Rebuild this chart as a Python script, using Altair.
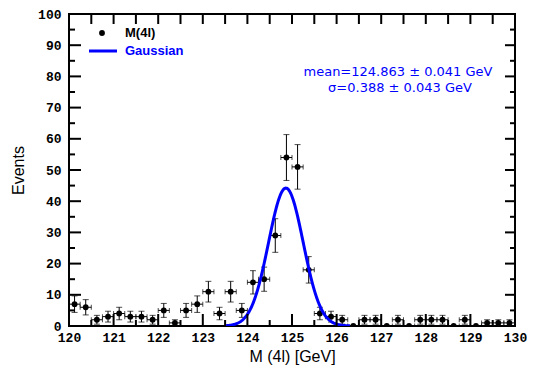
import altair as alt
import pandas as pd
import numpy as np

# ---- data ----
bin_centers = [120.125, 120.375, 120.625, 120.875, 121.125, 121.375, 121.625, 121.875,
               122.125, 122.375, 122.625, 122.875, 123.125, 123.375, 123.625, 123.875,
               124.125, 124.375, 124.625, 124.875, 125.125, 125.375, 125.625, 125.875,
               126.125, 126.375, 126.625, 126.875, 127.125, 127.375, 127.625, 127.875,
               128.125, 128.375, 128.625, 128.875, 129.125, 129.375, 129.625, 129.875]
counts = [7, 6, 2, 3, 4, 3, 3, 2, 5, 1,
          5, 7, 11, 4, 11, 5, 14, 15, 29, 54,
          51, 18, 4, 3, 2, 0, 2, 2, 0, 2,
          0, 2, 2, 2, 0, 2, 0, 1, 1, 1]
bin_width = 0.25

fit_mean = 124.863
fit_sigma = 0.388
fit_amp = 44.2
fit_range = [123.5, 126.3]

x_major = [120, 121, 122, 123, 124, 125, 126, 127, 128, 129, 130]
x_minor = [120.5, 121.5, 122.5, 123.5, 124.5, 125.5, 126.5, 127.5, 128.5, 129.5]
y_major = [0, 10, 20, 30, 40, 50, 60, 70, 80, 90, 100]
y_minor = [5, 15, 25, 35, 45, 55, 65, 75, 85, 95]

legend_labels = ["M(4l)", "Gaussian"]
stats_lines = ["mean=124.863 \u00b1 0.041 GeV", "\u03c3=0.388 \u00b1 0.043 GeV"]
x_title = "M (4l) [GeV]"
y_title = "Events"

# ---- layout ----
W, H = 446, 312
BLUE = "#0000ff"

df = pd.DataFrame({"m": bin_centers, "n": counts})
df["err"] = np.sqrt(df["n"])
df["lo"] = df["n"] - df["err"]
df["hi"] = df["n"] + df["err"]
df["xl"] = df["m"] - bin_width / 2
df["xh"] = df["m"] + bin_width / 2

xs = alt.Scale(domain=[120, 130], nice=False, zero=False)
ys = alt.Scale(domain=[0, 100], nice=False, zero=True)

xaxis = alt.Axis(values=x_major, format="d", tickSize=0, domain=False, grid=False,
                 labelFont="Liberation Mono", labelFontWeight="bold", labelFontSize=13,
                 labelColor="black", labelPadding=5, labelFlush=False, labelOverlap=False,
                 title=x_title, titleFont="Liberation Sans", titleFontSize=16,
                 titleFontWeight="normal", titleColor="black", titlePadding=4)
yaxis = alt.Axis(values=y_major, format="d", tickSize=0, domain=False, grid=False,
                 labelFont="Liberation Mono", labelFontWeight="bold", labelFontSize=13,
                 labelColor="black", labelPadding=8, labelFlush=False, labelOverlap=False,
                 title=y_title, titleFont="Liberation Sans", titleFontSize=16,
                 titleFontWeight="normal", titleColor="black",
                 titleX=-46, titleY=H / 2, titleAngle=-90, titleAlign="center",
                 titleBaseline="alphabetic")


def X(f):
    return alt.X(f, scale=xs, axis=xaxis)


def Y(f):
    return alt.Y(f, scale=ys, axis=yaxis)


base = alt.Chart(df)
nz = base.transform_filter("datum.n > 0")

vbar = nz.mark_rule(color="black", strokeWidth=1, clip=True).encode(
    x=X("m:Q"), y=Y("lo:Q"), y2="hi:Q")
cap_hi = nz.mark_tick(orient="horizontal", size=6, thickness=1, color="black", clip=True).encode(
    x=X("m:Q"), y=Y("hi:Q"))
cap_lo = nz.mark_tick(orient="horizontal", size=6, thickness=1, color="black", clip=True).encode(
    x=X("m:Q"), y=Y("lo:Q"))
hbar = base.mark_rule(color="black", strokeWidth=1, clip=True).encode(
    x=X("xl:Q"), x2="xh:Q", y=Y("n:Q"))
hcap_l = base.mark_tick(orient="vertical", size=5, thickness=1, color="black", clip=True).encode(
    x=X("xl:Q"), y=Y("n:Q"))
hcap_r = base.mark_tick(orient="vertical", size=5, thickness=1, color="black", clip=True).encode(
    x=X("xh:Q"), y=Y("n:Q"))
pts = base.mark_circle(size=34, color="black", opacity=1, clip=True).encode(
    x=X("m:Q"), y=Y("n:Q"))

gauss = alt.Chart(alt.sequence(fit_range[0], fit_range[1] + 0.005, 0.01, as_="m")).transform_calculate(
    g=f"{fit_amp}*exp(-0.5*pow((datum.m-{fit_mean})/{fit_sigma},2))"
).mark_line(color=BLUE, strokeWidth=3, clip=True).encode(x=X("m:Q"), y=Y("g:Q"))

# inward ticks on all four sides
xmaj = alt.Chart(pd.DataFrame({"t": x_major}))
xmin = alt.Chart(pd.DataFrame({"t": x_minor}))
ymaj = alt.Chart(pd.DataFrame({"t": y_major}))
ymin = alt.Chart(pd.DataFrame({"t": y_minor}))
tk = dict(color="black", strokeWidth=2)
ticks = [
    xmaj.mark_rule(**tk).encode(x=X("t:Q"), y=alt.value(H), y2=alt.value(H - 12)),
    xmin.mark_rule(**tk).encode(x=X("t:Q"), y=alt.value(H), y2=alt.value(H - 6)),
    xmaj.mark_rule(**tk).encode(x=X("t:Q"), y=alt.value(0), y2=alt.value(10)),
    xmin.mark_rule(**tk).encode(x=X("t:Q"), y=alt.value(0), y2=alt.value(10)),
    ymaj.mark_rule(**tk).encode(y=Y("t:Q"), x=alt.value(0), x2=alt.value(12)),
    ymin.mark_rule(**tk).encode(y=Y("t:Q"), x=alt.value(0), x2=alt.value(6)),
    ymaj.mark_rule(**tk).encode(y=Y("t:Q"), x=alt.value(W), x2=alt.value(W - 10)),
    ymin.mark_rule(**tk).encode(y=Y("t:Q"), x=alt.value(W), x2=alt.value(W - 5)),
]

one = alt.Chart(pd.DataFrame({"k": [0]}))
leg_pt = one.mark_circle(size=34, color="black", opacity=1).encode(x=alt.value(33), y=alt.value(19))
leg_t1 = one.mark_text(text=legend_labels[0], align="left", baseline="middle", font="Liberation Sans",
                       fontSize=13, fontWeight="bold", color="black").encode(x=alt.value(56), y=alt.value(19))
leg_ln = one.mark_rule(color=BLUE, strokeWidth=3).encode(x=alt.value(20), x2=alt.value(48), y=alt.value(37))
leg_t2 = one.mark_text(text=legend_labels[1], align="left", baseline="middle", font="Liberation Sans",
                       fontSize=13, fontWeight="bold", color=BLUE).encode(x=alt.value(56), y=alt.value(37))
st1 = one.mark_text(text=stats_lines[0], align="center", baseline="middle", font="DejaVu Sans",
                    fontSize=13, color=BLUE).encode(x=alt.value(329), y=alt.value(58))
st2 = one.mark_text(text=stats_lines[1], align="center", baseline="middle", font="DejaVu Sans",
                    fontSize=13, color=BLUE).encode(x=alt.value(331), y=alt.value(74))

chart = alt.layer(
    hbar, hcap_l, hcap_r, vbar, cap_hi, cap_lo, pts, gauss, *ticks,
    leg_pt, leg_t1, leg_ln, leg_t2, st1, st2
).properties(
    width=W, height=H, autosize=alt.AutoSizeParams(type="none"),
    padding={"left": 61, "top": 6, "right": 12, "bottom": 40},
    background="white"
).configure_view(stroke="black", strokeWidth=2)

chart.save("out.html", embed_options={"renderer": "svg", "actions": False})
